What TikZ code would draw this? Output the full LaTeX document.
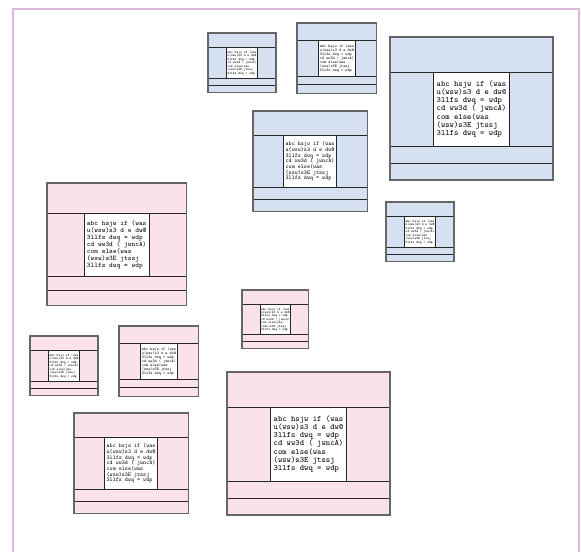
\documentclass[tikz,border=0pt]{standalone}
\usepackage{tikz}
\usetikzlibrary{positioning}
\definecolor{cblue}{RGB}{213,225,241}
\definecolor{cpink}{RGB}{250,226,236}
\definecolor{cfrm}{RGB}{222,186,218}
\tikzset{
  frm/.style   = {draw=cfrm, line width=1.4pt},
  sep/.style   = {draw=black!85, line width=0.8pt},
  outl/.style  = {draw=black!60, line width=1.1pt},
  txtbox/.style = {draw=black!85, fill=white, line width=0.8pt, transform shape,
                   minimum width=75pt, minimum height=74pt, inner sep=2.9pt,
                   align=left, font=\ttfamily\fontsize{8.2}{8.2}\selectfont},
}
\begin{document}
\begin{tikzpicture}[x=1pt, y=-1pt]
  \useasboundingbox (0,0) rectangle (581,552);
  % outer frame
  \draw[frm] (13,552) -- (13,9) -- (579,9) -- (579,552);
  % boxes: left/top/scale/colour
  \foreach \px/\py/\sc/\col [count=\n] in {
      208/33/0.417/cblue, 297/23/0.49/cblue, 390/37/1.0/cblue,
      253/111/0.7/cblue, 386/202/0.417/cblue,
      47/183/0.855/cpink, 242/290/0.41/cpink, 30/336/0.417/cpink,
      119/326/0.49/cpink, 227/372/1.0/cpink, 74/413/0.7/cpink} {
    \begin{scope}[shift={(\px,\py)}, scale=\sc]
      \fill[\col] (0,0) rectangle (163,143);
      \draw[sep] (0,35) -- (163,35) (0,109) -- (163,109) (0,126) -- (163,126);
      \node[txtbox] (code\n) at (81.5,72) {abc hsjw if (was\\
        u(wsw)s3 d e dw@\\ 3llfs dwq = wdp\\ cd ww3d ( jwncA)\\
        com else(was\\ (wsw)s3E jtssj\\ 3llfs dwq = wdp};
      \draw[outl] (0,0) rectangle (163,143);
    \end{scope}
  }
\end{tikzpicture}
\end{document}
